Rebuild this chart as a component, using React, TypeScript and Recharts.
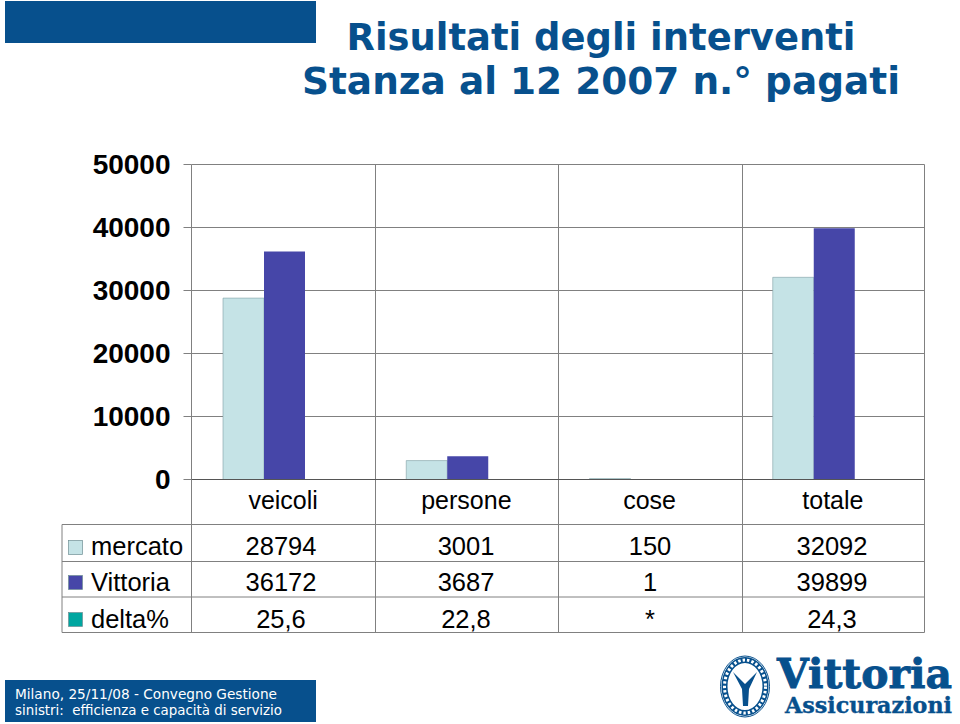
import { BarChart, Bar, XAxis, YAxis, CartesianGrid } from 'recharts';

const categories = ['veicoli', 'persone', 'cose', 'totale'];
const mercato = [28794, 3001, 150, 32092];
const vittoria = [36172, 3687, 1, 39899];
const delta = [25.6, 22.8, null, 24.3];
const deltaLabels = ['25,6', '22,8', '*', '24,3'];
const yTicks = [0, 10000, 20000, 30000, 40000, 50000];

const chartData = categories.map((name, i) => ({
  name,
  mercato: mercato[i],
  vittoria: vittoria[i],
  delta: delta[i],
}));

const BLUE = '#07508D';
const GRID = '#808080';
const COL_MERCATO = '#C5E3E6';
const COL_VITTORIA = '#4646A8';
const COL_DELTA = '#00A6A0';
const SANS = '"Liberation Sans", Arial, sans-serif';

const colLines = [191.5, 375.5, 558.5, 742.5, 924.5];
const colCenters = [281, 466, 650, 832];
const rowLines = [524.5, 561.5, 597, 632.5];

const rows = [
  { label: 'mercato', color: COL_MERCATO, swatchY: 540, baseline: 555, values: mercato.map(String) },
  { label: 'Vittoria', color: COL_VITTORIA, swatchY: 575, baseline: 591, values: vittoria.map(String) },
  { label: 'delta%', color: COL_DELTA, swatchY: 612, baseline: 628, values: deltaLabels },
];

function Overlay() {
  return (
    <svg width={960} height={724} style={{ position: 'absolute', left: 0, top: 0 }}>
      {/* header */}
      <rect x={5} y={1} width={311} height={42} fill={BLUE} />
      <g fontFamily='"DejaVu Sans", sans-serif' fontWeight="bold" fontSize={37} fill={BLUE} textAnchor="middle">
        <text x={601} y={50} textLength={509} lengthAdjust="spacingAndGlyphs">Risultati degli interventi</text>
        <text x={601} y={94} textLength={598} lengthAdjust="spacingAndGlyphs">Stanza al 12 2007 n.° pagati</text>
      </g>

      {/* data table */}
      {rowLines.map((y) => (
        <line key={y} x1={62} x2={924.5} y1={y} y2={y} stroke={GRID} strokeWidth={1} />
      ))}
      <line x1={62} x2={62} y1={524.5} y2={632.5} stroke={GRID} />
      {colLines.map((x) => (
        <line key={x} x1={x} x2={x} y1={479.5} y2={632.5} stroke={GRID} />
      ))}
      {rows.map((r) => (
        <g key={r.label} fontFamily={SANS} fontSize={25.5} fill="#000">
          <rect x={68.5} y={r.swatchY + 0.5} width={14} height={14} fill={r.color} stroke="#6f8f94" strokeWidth={0.7} />
          <text x={91} y={r.baseline}>{r.label}</text>
          {r.values.map((v, i) => (
            <text key={i} x={colCenters[i]} y={r.baseline} textAnchor="middle">{v}</text>
          ))}
        </g>
      ))}

      {/* footer */}
      <rect x={5} y={680} width={311} height={42} fill={BLUE} />
      <g fontFamily='"DejaVu Sans", sans-serif' fontSize={14} fill="#fff">
        <text x={15} y={699} textLength={262} lengthAdjust="spacingAndGlyphs">Milano, 25/11/08 - Convegno Gestione</text>
        <text x={15} y={715} textLength={267} lengthAdjust="spacingAndGlyphs">sinistri:{'\u00A0\u00A0'}efficienza e capacità di servizio</text>
      </g>

      {/* logo */}
      <ellipse cx={745} cy={686.5} rx={25} ry={31} fill="#fff" />
      <ellipse cx={745} cy={686.5} rx={24.5} ry={30.5} fill="none" stroke={BLUE} strokeWidth={1} />
      <ellipse cx={745} cy={686.5} rx={20.5} ry={26.5} fill="none" stroke={BLUE} strokeWidth={6} />
      <ellipse cx={745} cy={686.5} rx={20.5} ry={26.5} fill="none" stroke="#fff" strokeWidth={3} strokeDasharray="2.5 2" />
      <path d="M733 672 L745 684 L757 672 L749 689 L748 706 L743 706 L742 689 Z" fill={BLUE} />
      <g fontFamily='"DejaVu Serif", "Liberation Serif", serif' fontWeight="bold" fill={BLUE} stroke={BLUE}>
        <text x={777} y={688} fontSize={41} strokeWidth={0.9} textLength={175} lengthAdjust="spacingAndGlyphs">Vittoria</text>
        <text x={785} y={712.5} fontSize={22} strokeWidth={0.4} textLength={167} lengthAdjust="spacingAndGlyphs">Assicurazioni</text>
      </g>
    </svg>
  );
}

export default function App() {
  return (
    <div style={{ position: 'absolute', left: 0, top: 0, width: 960, height: 724, background: '#fff', overflow: 'hidden' }}>
      <Overlay />
      <div style={{ position: 'absolute', left: 0, top: 0 }}>
        <BarChart
          width={960}
          height={724}
          data={chartData}
          barGap={0}
          barSize={41}
          margin={{ top: 164.5, right: 35.5, bottom: 214.5, left: 131.5 }}
        >
          <CartesianGrid
            stroke={GRID}
            strokeWidth={1}
            verticalCoordinatesGenerator={() => colLines}
          />
          <XAxis
            dataKey="name"
            height={30}
            interval={0}
            padding={{ left: 1.5, right: -1.5 }}
            tickLine={false}
            axisLine={{ stroke: '#555' }}
            tick={{ fill: '#000', fontFamily: SANS, fontSize: 25, dx: -1.5 }}
            tickMargin={6}
          />
          <YAxis
            width={60}
            domain={[0, 50000]}
            ticks={yTicks}
            interval={0}
            tickSize={8}
            tickMargin={13}
            axisLine={false}
            tickLine={{ stroke: GRID }}
            tick={{ fill: '#000', fontFamily: SANS, fontSize: 28, fontWeight: 'bold' }}
          />
          <Bar dataKey="mercato" fill={COL_MERCATO} stroke="#7f9fa4" strokeWidth={0.6} isAnimationActive={false} />
          <Bar dataKey="vittoria" fill={COL_VITTORIA} isAnimationActive={false} />
          <Bar dataKey="delta" fill={COL_DELTA} isAnimationActive={false} />
        </BarChart>
      </div>
    </div>
  );
}
